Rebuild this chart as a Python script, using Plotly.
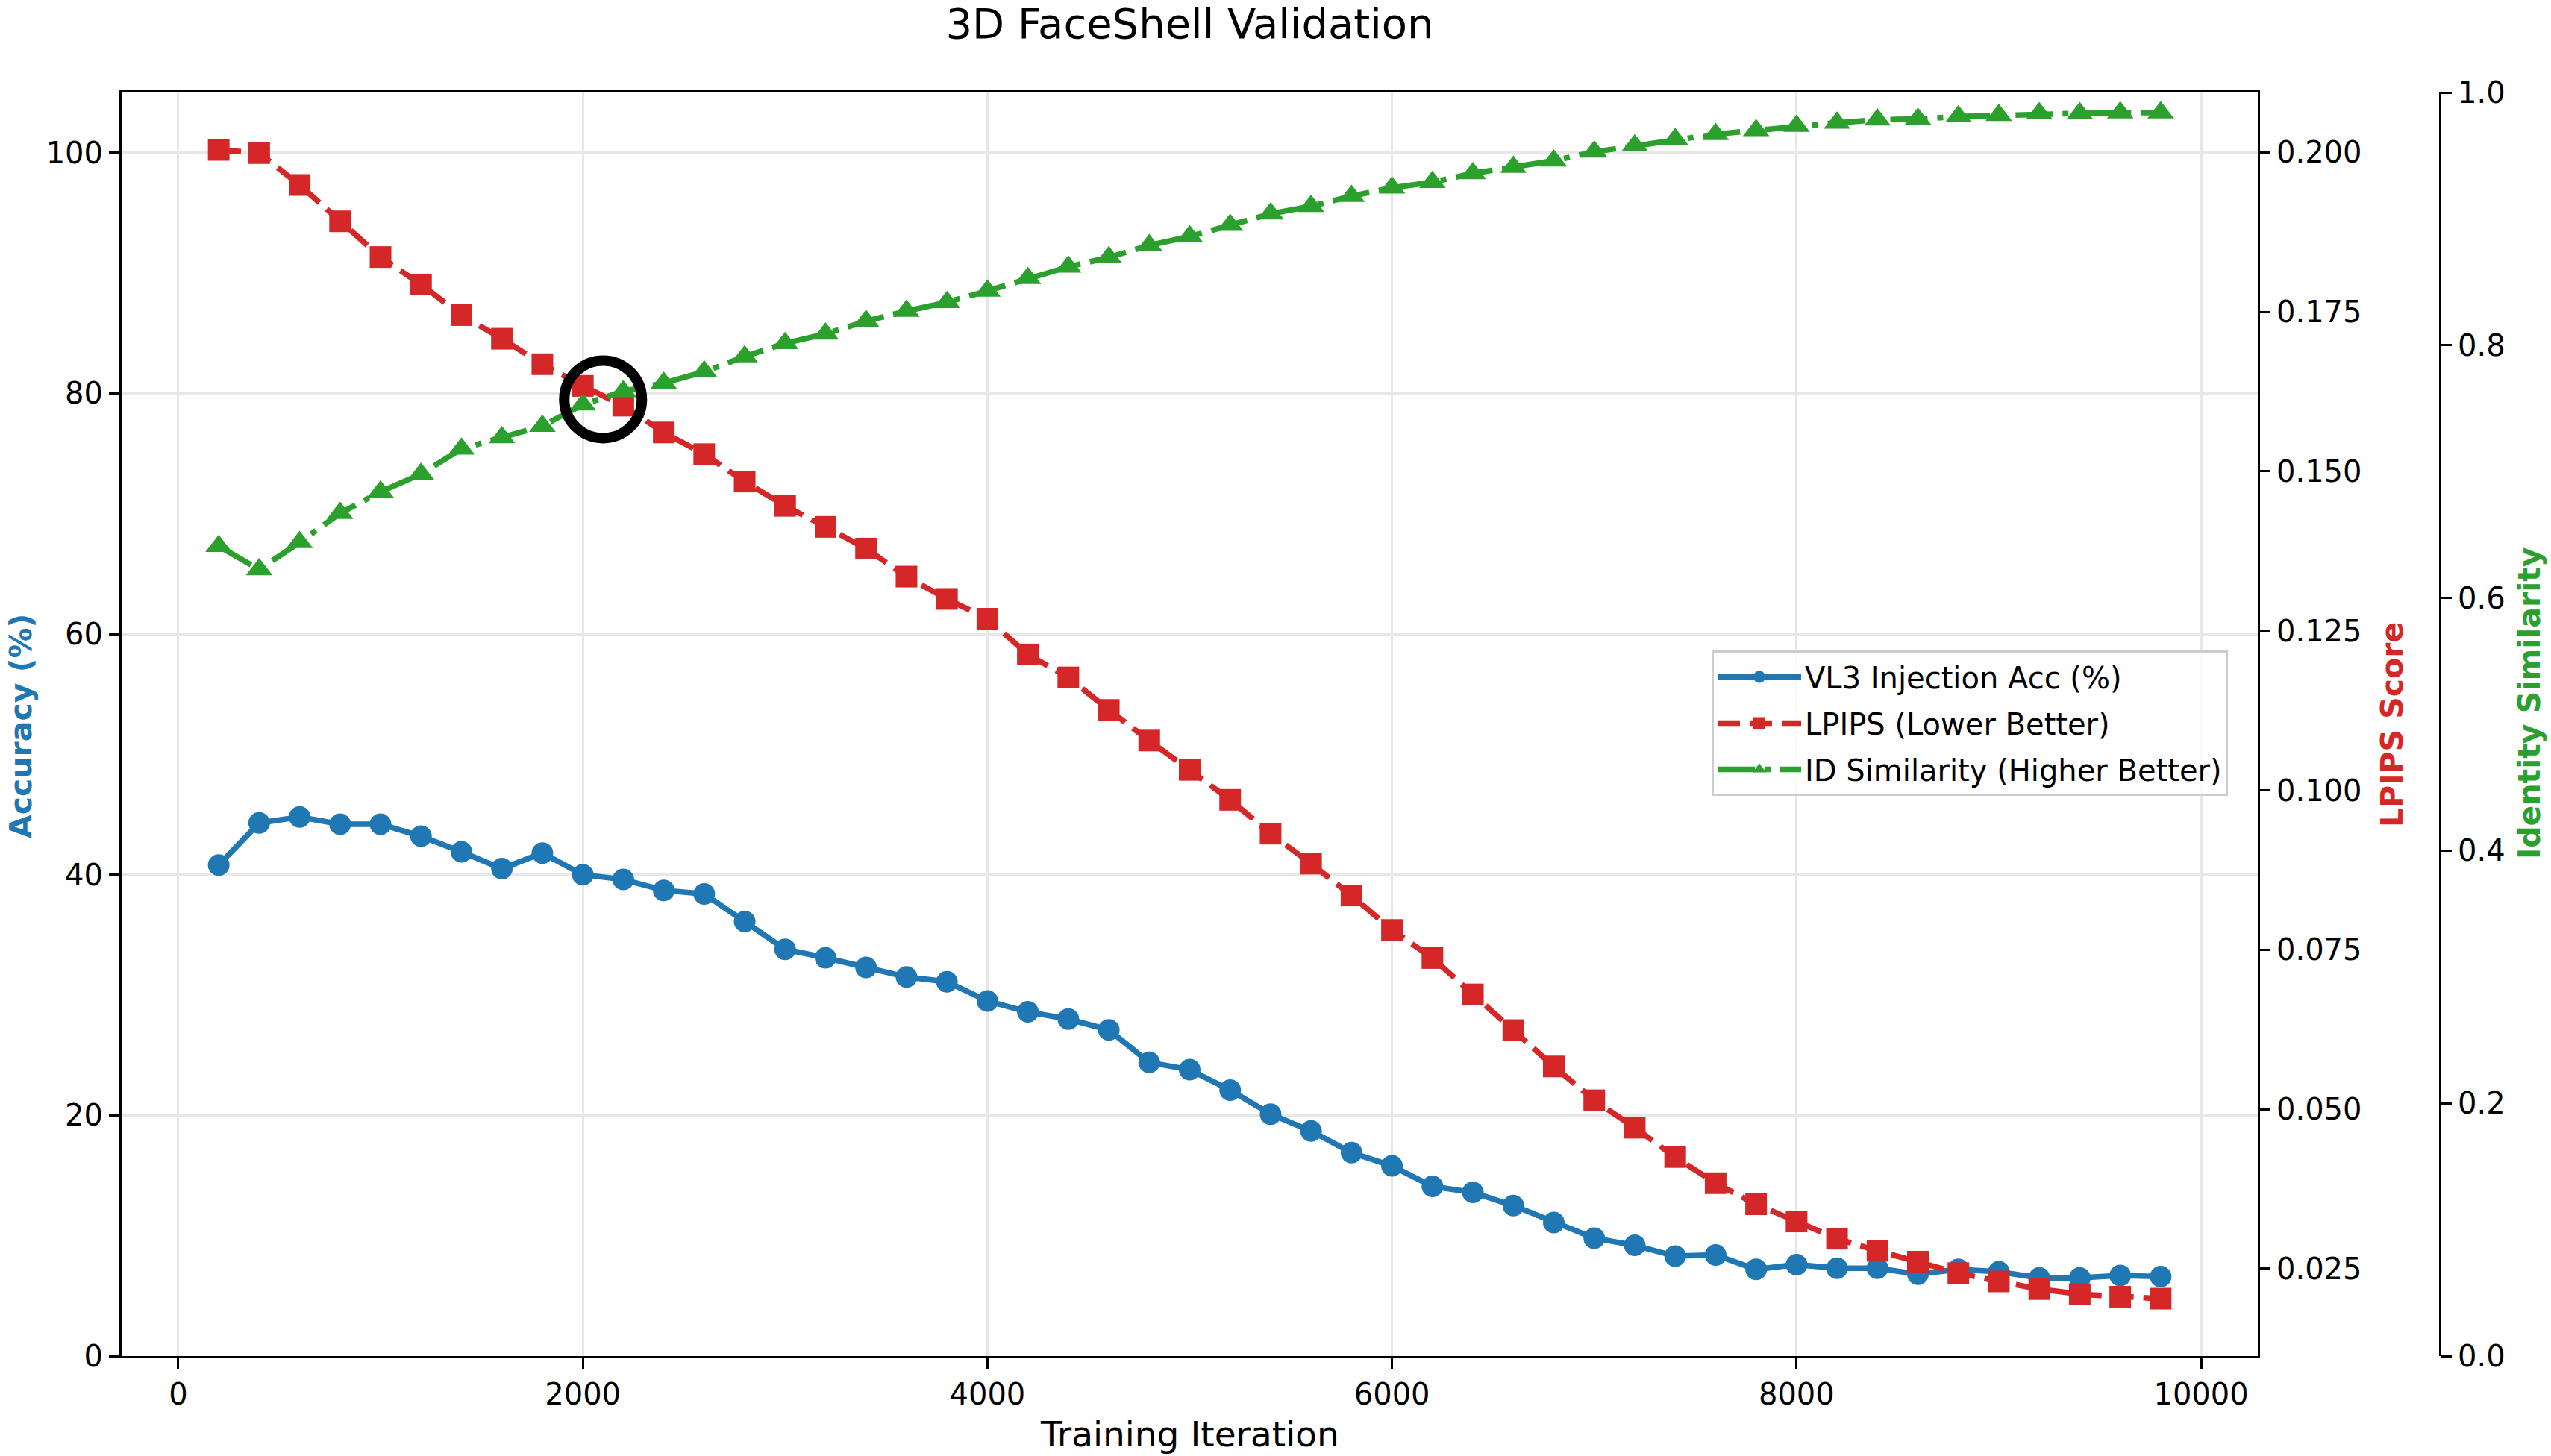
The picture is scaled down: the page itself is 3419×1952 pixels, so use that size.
import plotly.graph_objects as go

# ---------------- data ----------------
iterations = [200, 400, 600, 800, 1000, 1200, 1400, 1600, 1800, 2000,
              2200, 2400, 2600, 2800, 3000, 3200, 3400, 3600, 3800, 4000,
              4200, 4400, 4600, 4800, 5000, 5200, 5400, 5600, 5800, 6000,
              6200, 6400, 6600, 6800, 7000, 7200, 7400, 7600, 7800, 8000,
              8200, 8400, 8600, 8800, 9000, 9200, 9400, 9600, 9800]

acc = [40.8, 44.3, 44.8, 44.2, 44.2, 43.2, 41.9, 40.5, 41.8, 40.0,
       39.6, 38.7, 38.4, 36.1, 33.8, 33.1, 32.3, 31.5, 31.1, 29.5,
       28.6, 28.0, 27.1, 24.4, 23.8, 22.1, 20.1, 18.7, 16.9, 15.8,
       14.1, 13.6, 12.5, 11.1, 9.8, 9.2, 8.3, 8.4, 7.2, 7.6,
       7.3, 7.3, 6.8, 7.2, 7.0, 6.5, 6.5, 6.7, 6.6]

lpips = [0.2004, 0.1999, 0.1949, 0.1892, 0.1836, 0.1793, 0.1745, 0.1708, 0.1668, 0.1634,
         0.1603, 0.1561, 0.1527, 0.1484, 0.1446, 0.1413, 0.1379, 0.1335, 0.1300, 0.1269,
         0.1213, 0.1177, 0.1126, 0.1078, 0.1032, 0.0985, 0.0932, 0.0885, 0.0835, 0.0781,
         0.0737, 0.0680, 0.0624, 0.0567, 0.0514, 0.0471, 0.0425, 0.0384, 0.0351, 0.0324,
         0.0297, 0.0278, 0.0261, 0.0243, 0.0230, 0.0218, 0.0210, 0.0206, 0.0203]

id_sim = [0.641, 0.6225, 0.644, 0.667, 0.684, 0.698, 0.718, 0.727, 0.736, 0.753,
          0.7635, 0.770, 0.779, 0.791, 0.8015, 0.809, 0.819, 0.827, 0.834, 0.843,
          0.853, 0.862, 0.8695, 0.879, 0.886, 0.895, 0.904, 0.910, 0.918, 0.9246,
          0.929, 0.936, 0.941, 0.946, 0.953, 0.958, 0.963, 0.967, 0.970, 0.9735,
          0.976, 0.9785, 0.979, 0.981, 0.982, 0.9835, 0.9835, 0.984, 0.984]

highlight_iter = [2100]
highlight_acc = [79.5]

x_ticks = [0, 2000, 4000, 6000, 8000, 10000]
x_tick_labels = ["0", "2000", "4000", "6000", "8000", "10000"]
acc_ticks = [0, 20, 40, 60, 80, 100]
lpips_ticks = [0.025, 0.050, 0.075, 0.100, 0.125, 0.150, 0.175, 0.200]
id_ticks = [0.0, 0.2, 0.4, 0.6, 0.8, 1.0]

# ---------------- style ----------------
FONT = "DejaVu Sans"
BLUE, RED, GREEN = "#1f77b4", "#d62728", "#2ca02c"
W, H = 3419, 1952
ML, MR, MT, MB = 163, 0, 124, 134
PW = W - ML - MR
PH = H - MT - MB
plot_right_px = 3026
id_axis_px = 3270


def px_x(px):
    return (px - ML) / PW


def px_y(py):
    return (H - MB - py) / PH


LW = 7.5
fig = go.Figure()

fig.add_trace(go.Scatter(
    x=iterations, y=acc, name="VL3 Injection Acc (%)", mode="lines+markers",
    legendgroup="g1",
    line=dict(color=BLUE, width=LW),
    marker=dict(symbol="circle", size=29, color=BLUE),
    yaxis="y"))

fig.add_trace(go.Scatter(
    x=iterations, y=lpips, name="LPIPS (Lower Better)", mode="lines+markers",
    legendgroup="g2",
    line=dict(color=RED, width=LW, dash="30px,13px"),
    marker=dict(symbol="square", size=29, color=RED),
    yaxis="y2"))

fig.add_trace(go.Scatter(
    x=iterations, y=id_sim, name="ID Similarity (Higher Better)", mode="lines+markers",
    legendgroup="g3",
    line=dict(color=GREEN, width=LW, dash="50px,13px,8px,13px"),
    marker=dict(symbol="triangle-up", size=31, color=GREEN),
    yaxis="y3"))

# highlight ring (drawn above everything)
fig.add_shape(type="circle", xref="x", yref="y",
              xsizemode="pixel", ysizemode="pixel",
              xanchor=highlight_iter[0], yanchor=highlight_acc[0],
              x0=-52, x1=52, y0=-52, y1=52,
              line=dict(color="black", width=14), layer="above")

axis_common = dict(
    showline=True, linecolor="black", linewidth=3,
    ticks="outside", ticklen=14, tickwidth=3, tickcolor="black",
    tickfont=dict(family=FONT, size=40, color="black"),
    zeroline=False,
)

fig.update_layout(
    width=W, height=H,
    margin=dict(l=ML, r=MR, t=MT, b=MB, autoexpand=False),
    paper_bgcolor="white", plot_bgcolor="white",
    font=dict(family=FONT, color="black"),
    title=dict(text="3D FaceShell Validation", x=px_x((ML + plot_right_px) / 2), xref="paper",
               xanchor="center", y=1 - 31 / H, yref="container", yanchor="middle",
               font=dict(family=FONT, size=56, color="black")),
    xaxis=dict(domain=[0, px_x(plot_right_px)], range=[-280, 10280],
               tickvals=x_ticks, ticktext=x_tick_labels,
               showgrid=True, gridcolor="#e7e7e7", gridwidth=3,
               mirror=True, **axis_common),
    yaxis=dict(range=[0, 105], tickvals=acc_ticks, showgrid=True,
               gridcolor="#e7e7e7", gridwidth=3, mirror=True, **axis_common),
    yaxis2=dict(overlaying="y", side="right", anchor="x", range=[0.0113, 0.2094],
                tickvals=lpips_ticks, tickformat=".3f", showgrid=False, **axis_common),
    yaxis3=dict(overlaying="y", side="right", anchor="free", position=px_x(id_axis_px),
                range=[0, 1], tickvals=id_ticks, tickformat=".1f", showgrid=False,
                **axis_common),
    legend=dict(x=px_x(2294), y=px_y(872), xanchor="left", yanchor="top",
                bgcolor="rgba(255,255,255,0.8)", bordercolor="#cccccc", borderwidth=3,
                itemwidth=112, tracegroupgap=7, traceorder="grouped",
                font=dict(family=FONT, size=40, color="black")),
    showlegend=True,
)

annotations = [
    dict(text="Training Iteration", x=px_x((ML + plot_right_px) / 2), y=px_y(1923),
         xref="paper", yref="paper", showarrow=False, xanchor="center", yanchor="middle",
         font=dict(family=FONT, size=47, color="black")),
    dict(text="<b>Accuracy (%)</b>", x=px_x(28), y=px_y(974), xref="paper", yref="paper",
         showarrow=False, textangle=-90, xanchor="center", yanchor="middle",
         font=dict(family=FONT, size=41, color=BLUE)),
    dict(text="<b>LPIPS Score</b>", x=px_x(3206), y=px_y(972), xref="paper", yref="paper",
         showarrow=False, textangle=-90, xanchor="center", yanchor="middle",
         font=dict(family=FONT, size=41, color=RED)),
    dict(text="<b>Identity Similarity</b>", x=px_x(3390), y=px_y(943), xref="paper", yref="paper",
         showarrow=False, textangle=-90, xanchor="center", yanchor="middle",
         font=dict(family=FONT, size=41, color=GREEN)),
]
fig.update_layout(annotations=annotations)

fig.write_html("out.html")
